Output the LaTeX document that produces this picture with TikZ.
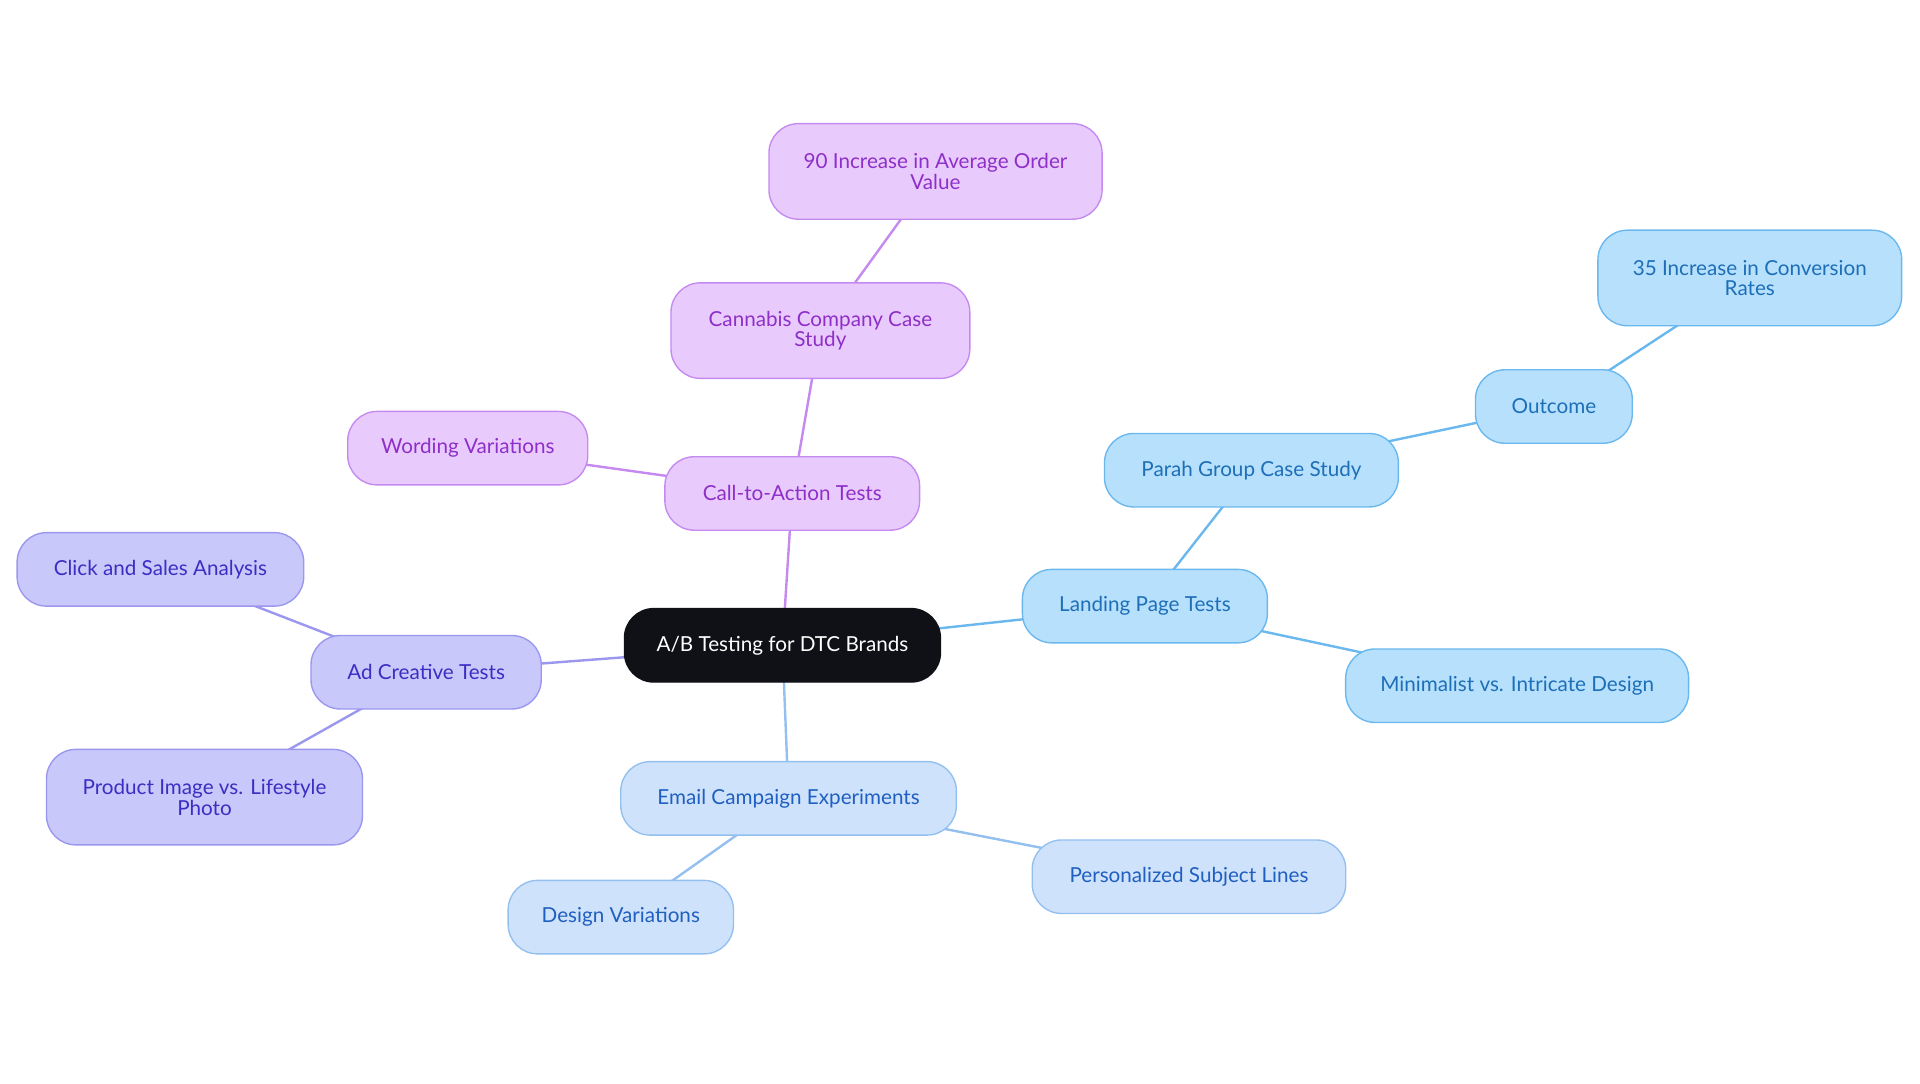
\documentclass[tikz,border=0pt]{standalone}
\usepackage{fontspec}
\setmainfont{Lato}
\usepackage{xcolor}
\usepackage{tikz}
\usetikzlibrary{backgrounds}
\definecolor{rootfill}{HTML}{0F1117}
\definecolor{purfill}{HTML}{E8CBFC}
\definecolor{purline}{HTML}{C58AF0}
\definecolor{purtext}{HTML}{8E2FC8}
\definecolor{indfill}{HTML}{C9C8FB}
\definecolor{indline}{HTML}{9B96EE}
\definecolor{indtext}{HTML}{3A2FC2}
\definecolor{emfill}{HTML}{CFE2FB}
\definecolor{emline}{HTML}{94C0F0}
\definecolor{emtext}{HTML}{1F5FBF}
\definecolor{lpfill}{HTML}{B7E0FC}
\definecolor{lpline}{HTML}{6AB8EE}
\definecolor{lptext}{HTML}{1D6FB8}
\tikzset{
  box/.style={rounded corners=0.6cm, draw, line width=0.8pt, align=center,
    minimum height=1.5cm, font=\fontsize{12}{12}\selectfont, inner sep=2pt},
  rootbox/.style={box, fill=rootfill, draw=rootfill, text=white},
  purbox/.style={box, fill=purfill, draw=purline, text=purtext},
  indbox/.style={box, fill=indfill, draw=indline, text=indtext},
  embox/.style={box, fill=emfill, draw=emline, text=emtext},
  lpbox/.style={box, fill=lpfill, draw=lpline, text=lptext},
  tall/.style={minimum height=1.95cm},
  link/.style={line width=1.4pt}
}
\begin{document}
\begin{tikzpicture}[x=0.025cm, y=-0.025cm]
  \useasboundingbox (0,0) rectangle (1568,885);
  % root
  \node[rootbox, minimum width=6.45cm] (root) at (639,527) {A/B Testing for DTC Brands};
  % call to action
  \node[purbox, minimum width=5.2cm] (cta) at (647,403) {Call-to-Action Tests};
  \node[purbox, tall, minimum width=6.1cm] (cannabis) at (670,270) {Cannabis Company Case\\Study};
  \node[purbox, tall, minimum width=6.8cm] (aov) at (764,140) {90 Increase in Average Order\\Value};
  \node[purbox, minimum width=4.9cm] (wording) at (382,366) {Wording Variations};
  % ad creative
  \node[indbox, minimum width=4.7cm] (ad) at (348,549) {Ad Creative Tests};
  \node[indbox, minimum width=5.85cm] (click) at (131,465) {Click and Sales Analysis};
  \node[indbox, tall, minimum width=6.45cm] (product) at (167,651) {Product Image vs. Lifestyle\\Photo};
  % email
  \node[embox, minimum width=6.85cm] (email) at (644,652) {Email Campaign Experiments};
  \node[embox, minimum width=4.6cm] (design) at (507,749) {Design Variations};
  \node[embox, minimum width=6.4cm] (subject) at (971,716) {Personalized Subject Lines};
  % landing page
  \node[lpbox, minimum width=5.0cm] (landing) at (935,495) {Landing Page Tests};
  \node[lpbox, minimum width=6.0cm] (parah) at (1022,384) {Parah Group Case Study};
  \node[lpbox, minimum width=3.2cm] (outcome) at (1269,332) {Outcome};
  \node[lpbox, tall, minimum width=6.2cm] (conv) at (1429,227) {35 Increase in Conversion\\Rates};
  \node[lpbox, minimum width=7.0cm] (minimal) at (1239,560) {Minimalist vs. Intricate Design};
  % links
  \begin{pgfonlayer}{background}
    \draw[link, purline] (root.center) -- (cta.center);
    \draw[link, purline] (cta.center) -- (cannabis.center);
    \draw[link, purline] (cannabis.center) -- (aov.center);
    \draw[link, purline] (cta.center) -- (wording.center);
    \draw[link, indline] (root.center) -- (ad.center);
    \draw[link, indline] (ad.center) -- (click.center);
    \draw[link, indline] (ad.center) -- (product.center);
    \draw[link, emline] (root.center) -- (email.center);
    \draw[link, emline] (email.center) -- (design.center);
    \draw[link, emline] (email.center) -- (subject.center);
    \draw[link, lpline] (root.center) -- (landing.center);
    \draw[link, lpline] (landing.center) -- (parah.center);
    \draw[link, lpline] (parah.center) -- (outcome.center);
    \draw[link, lpline] (outcome.center) -- (conv.center);
    \draw[link, lpline] (landing.center) -- (minimal.center);
  \end{pgfonlayer}
\end{tikzpicture}
\end{document}
